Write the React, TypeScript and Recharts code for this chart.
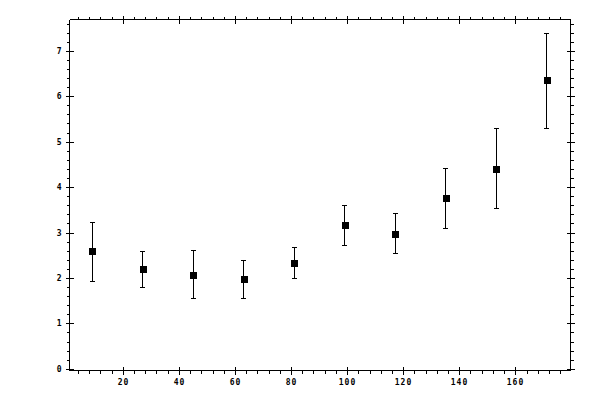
import React from "react";
import {
  ScatterChart,
  Scatter,
  XAxis,
  YAxis,
  ErrorBar,
} from "recharts";

// bin centres along x
const xValues = [9, 27, 45, 63, 81, 99, 117, 135, 153, 171];
// measured value and the lower / upper ends of each error bar
const yValues = [2.6, 2.2, 2.07, 1.98, 2.33, 3.17, 2.97, 3.76, 4.4, 6.36];
const yLower = [1.94, 1.8, 1.55, 1.56, 2.01, 2.73, 2.55, 3.1, 3.54, 5.3];
const yUpper = [3.24, 2.6, 2.62, 2.4, 2.69, 3.61, 3.42, 4.42, 5.29, 7.4];

// major + minor tick positions
const xTicks = [
  4, 8, 12, 16, 20, 24, 28, 32, 36, 40, 44, 48, 52, 56, 60, 64, 68, 72, 76, 80,
  84, 88, 92, 96, 100, 104, 108, 112, 116, 120, 124, 128, 132, 136, 140, 144,
  148, 152, 156, 160, 164, 168, 172, 176,
];
const yTicks = [
  0, 0.2, 0.4, 0.6, 0.8, 1, 1.2, 1.4, 1.6, 1.8, 2, 2.2, 2.4, 2.6, 2.8, 3, 3.2,
  3.4, 3.6, 3.8, 4, 4.2, 4.4, 4.6, 4.8, 5, 5.2, 5.4, 5.6, 5.8, 6, 6.2, 6.4, 6.6,
  6.8, 7, 7.2, 7.4, 7.6,
];

const X_DOMAIN: [number, number] = [0.8, 179.5];
const Y_DOMAIN: [number, number] = [-0.026, 7.7];

const data = xValues.map((x, i) => ({
  x,
  y: yValues[i],
  err: [yValues[i] - yLower[i], yUpper[i] - yValues[i]],
}));

const FONT = "'DejaVu Sans Mono', monospace";

const isMajorX = (v: number) => v % 20 === 0;
const isMajorY = (v: number) => Math.abs(v - Math.round(v)) < 1e-6;

type Side = "bottom" | "top" | "left" | "right";

// snap to pixel centre so the 1px lines stay sharp
const px = (n: number) => Math.floor(n) + 0.5;

const makeTick = (side: Side) => (props: any) => {
  const { payload } = props;
  const x = px(props.x);
  const y = px(props.y);
  const v = payload.value;
  const major = side === "bottom" || side === "top" ? isMajorX(v) : isMajorY(v);
  const len = major ? 4 : 3;
  let line;
  if (side === "bottom") line = <line x1={x} x2={x} y1={major ? y - len : y} y2={y + len} stroke="#000" />;
  else if (side === "top") line = <line x1={x} x2={x} y1={y - len} y2={major ? y + len : y} stroke="#000" />;
  else if (side === "left") line = <line x1={x - len} x2={major ? x + len : x} y1={y} y2={y} stroke="#000" />;
  else line = <line x1={major ? x - len : x} x2={x + len} y1={y} y2={y} stroke="#000" />;

  let label = null;
  if (major && side === "bottom") {
    label = (
      <text x={x} y={y + 12} textAnchor="middle" dominantBaseline="central" fontSize={8} fontWeight="bold" fontFamily={FONT} letterSpacing={1} fill="#000">
        {v}
      </text>
    );
  } else if (major && side === "left") {
    label = (
      <text x={x - 8} y={y} textAnchor="end" dominantBaseline="central" fontSize={8} fontWeight="bold" fontFamily={FONT} fill="#000">
        {Math.round(v)}
      </text>
    );
  }
  return (
    <g>
      {line}
      {label}
    </g>
  );
};

const SquareDot = (props: any) => {
  const { cx, cy } = props;
  return <rect x={Math.round(cx) - 3} y={Math.round(cy) - 3} width={7} height={7} fill="#000" />;
};

const NoDot = () => <g />;

export default function App() {
  const axisLine = { stroke: "#000", strokeWidth: 1 };
  return (
    <div
      style={{
        position: "absolute",
        left: 0,
        top: 0,
        width: 600,
        height: 400,
        background: "#fff",
        shapeRendering: "crispEdges",
      }}
    >
      <ScatterChart width={600} height={400} margin={{ top: 0, right: 0, bottom: 0, left: 0 }}>
        <XAxis
          xAxisId="b"
          dataKey="x"
          type="number"
          orientation="bottom"
          domain={X_DOMAIN}
          ticks={xTicks}
          interval={0}
          height={29.5}
          tickSize={0}
          tickMargin={0}
          tickLine={false}
          axisLine={axisLine}
          tick={makeTick("bottom")}
        />
        <XAxis
          xAxisId="t"
          dataKey="x"
          type="number"
          orientation="top"
          domain={X_DOMAIN}
          ticks={xTicks}
          interval={0}
          height={19.5}
          tickSize={0}
          tickMargin={0}
          tickLine={false}
          axisLine={axisLine}
          tick={makeTick("top")}
        />
        <YAxis
          yAxisId="l"
          dataKey="y"
          type="number"
          orientation="left"
          domain={Y_DOMAIN}
          ticks={yTicks}
          interval={0}
          width={69.5}
          tickSize={0}
          tickMargin={0}
          tickLine={false}
          axisLine={axisLine}
          tick={makeTick("left")}
        />
        <YAxis
          yAxisId="r"
          dataKey="y"
          type="number"
          orientation="right"
          domain={Y_DOMAIN}
          ticks={yTicks}
          interval={0}
          width={29.5}
          tickSize={0}
          tickMargin={0}
          tickLine={false}
          axisLine={axisLine}
          tick={makeTick("right")}
        />
        {/* invisible series so the top/right frame axes get their ticks */}
        <Scatter data={data} xAxisId="t" yAxisId="r" shape={NoDot} isAnimationActive={false} />
        <Scatter
          data={data}
          xAxisId="b"
          yAxisId="l"
          fill="#000"
          shape={SquareDot}
          isAnimationActive={false}
        >
          <ErrorBar dataKey="err" direction="y" width={2.5} stroke="#000" strokeWidth={1} isAnimationActive={false} />
        </Scatter>
      </ScatterChart>
    </div>
  );
}
